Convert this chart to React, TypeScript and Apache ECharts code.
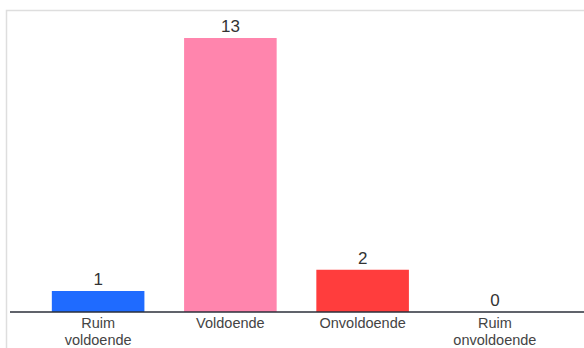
import React, { useEffect, useRef } from "react";
import * as echarts from "echarts";

const categories = ["Ruim\nvoldoende", "Voldoende", "Onvoldoende", "Ruim\nonvoldoende"];
const values = [1, 13, 2, 0];
const colors = ["#1f6bff", "#ff85ad", "#ff3d3d", "#cccccc"];

export default function App() {
  const ref = useRef<HTMLDivElement>(null);
  useEffect(() => {
    if (!ref.current) return;
    const chart = echarts.init(ref.current, undefined, { renderer: "svg" });
    chart.setOption({
      animation: false,
      grid: { left: 32, right: 23, top: 38, bottom: 36, containLabel: false, outerBoundsMode: "none" },
      graphic: [
        {
          type: "rect",
          shape: { x: 6.5, y: 10.5, width: 600, height: 400 },
          style: { fill: "none", stroke: "#dedede", lineWidth: 1.5 },
          silent: true,
          z: -10,
        },
        {
          type: "line",
          shape: { x1: 10, y1: 312, x2: 584, y2: 312 },
          style: { stroke: "#2b2f3a", lineWidth: 1.5 },
          z: 10,
        },
      ],
      xAxis: {
        type: "category",
        data: categories,
        axisLine: { show: false },
        axisTick: { show: false },
        axisLabel: {
          color: "#444",
          fontSize: 14.5,
          fontFamily: "Liberation Sans, Arial, sans-serif",
          lineHeight: 16.5,
          margin: 3,
          interval: 0,
        },
      },
      yAxis: {
        type: "value",
        min: 0,
        max: 13,
        show: false,
        splitLine: { show: false },
      },
      series: [
        {
          type: "bar",
          barWidth: "70%",
          data: values.map((v, i) => ({ value: v, itemStyle: { color: colors[i] } })),
          label: {
            show: true,
            position: "top",
            distance: 3,
            color: "#333",
            fontSize: 17,
            fontFamily: "Liberation Sans, Arial, sans-serif",
          },
        },
      ],
    });
    return () => chart.dispose();
  }, []);
  return <div ref={ref} style={{ width: 584, height: 348, position: "absolute", left: 0, top: 0 }} />;
}
